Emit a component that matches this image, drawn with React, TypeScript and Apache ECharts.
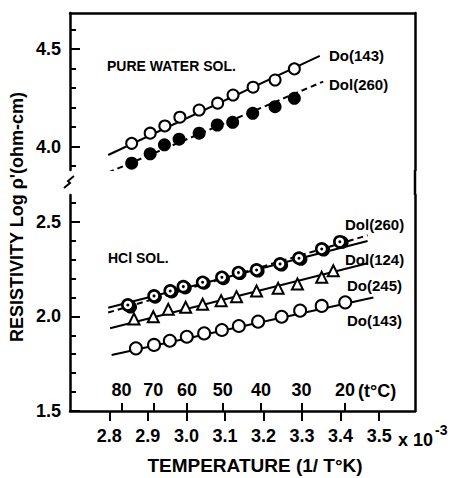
import React, { useEffect, useRef } from "react";
import * as echarts from "echarts";

// ---- tick labels ----
const xTicks = [2.8, 2.9, 3.0, 3.1, 3.2, 3.3, 3.4, 3.5];
const celsiusTicks = [80, 70, 60, 50, 40, 30, 20];
const upperMajor = [4.0, 4.5];
const upperMinor = [3.9, 4.1, 4.2, 4.3, 4.4, 4.6];
const lowerMajor = [1.5, 2.0, 2.5];
const lowerMinor = [1.6, 1.7, 1.8, 1.9, 2.1, 2.2, 2.3, 2.4, 2.6];

// ---- pure water solution ----
const pwDo143X = [2.858, 2.906, 2.944, 2.983, 3.033, 3.081, 3.121, 3.173, 3.23, 3.28];
const pwDo143Y = [4.017, 4.069, 4.106, 4.151, 4.188, 4.223, 4.265, 4.305, 4.342, 4.399];
const pwDo143Fit = [[2.797, 3.957], [3.346, 4.466]];

const pwDol260X = [2.858, 2.906, 2.943, 2.981, 3.033, 3.08, 3.12, 3.172, 3.23, 3.28];
const pwDol260Y = [3.915, 3.963, 4.009, 4.038, 4.069, 4.111, 4.125, 4.171, 4.205, 4.248];
const pwDol260Fit = [[2.797, 3.867], [3.355, 4.334]];

// ---- HCl solution ----
const hclDol260X = [2.848, 2.916, 2.958, 2.992, 3.042, 3.092, 3.135, 3.182, 3.243, 3.292, 3.351, 3.398];
const hclDol260Y = [2.06, 2.108, 2.134, 2.157, 2.18, 2.206, 2.231, 2.245, 2.277, 2.307, 2.356, 2.394];
const hclDol260Fit = [[2.797, 2.045], [3.47, 2.398]];

const hclDol124X = [2.855, 2.919, 2.962, 2.997, 3.046, 3.096, 3.139, 3.186, 3.247, 3.297, 3.356, 3.404];
const hclDol124Y = [2.049, 2.101, 2.129, 2.15, 2.175, 2.199, 2.226, 2.239, 2.271, 2.301, 2.35, 2.391];
const hclDol124Fit = [[2.797, 2.02], [3.47, 2.428]];

const hclDo245X = [2.864, 2.914, 2.953, 2.998, 3.042, 3.09, 3.13, 3.182, 3.238, 3.288, 3.351, 3.381];
const hclDo245Y = [1.986, 1.998, 2.037, 2.048, 2.064, 2.083, 2.104, 2.134, 2.148, 2.171, 2.206, 2.241];
const hclDo245Fit = [[2.802, 1.937], [3.47, 2.28]];

const hclDo143X = [2.869, 2.916, 2.957, 3.001, 3.046, 3.092, 3.136, 3.186, 3.247, 3.295, 3.351, 3.412];
const hclDo143Y = [1.831, 1.849, 1.871, 1.892, 1.91, 1.928, 1.949, 1.972, 1.998, 2.03, 2.055, 2.074];
const hclDo143Fit = [[2.806, 1.796], [3.485, 2.1]];

const zip = (xs: number[], ys: number[]) => xs.map((x, i) => [x, ys[i]]);

const FONT = "Liberation Sans, Arial, sans-serif";
const W = 461;
const H = 478;
const FRAME = { left: 70, right: 46, top: 13, bottom: 67 };
const UPPER_BOTTOM_Y = 170;
const LOWER_TOP_Y = 195;

export default function App() {
  const ref = useRef<HTMLDivElement>(null);

  useEffect(() => {
    if (!ref.current) return;
    const chart = echarts.init(ref.current, null, { renderer: "svg" });

    const xMin = 2.698;
    const xMax = 3.593;
    const lineW = 2.5;
    const frameX2 = W - FRAME.right;

    const openMarker = { color: "#fff", borderColor: "#000", borderWidth: 2, opacity: 1 };
    const fitLine = (name: string, data: number[][], xi: number, yi: number, dashed = false) => ({
      name,
      type: "line",
      xAxisIndex: xi,
      yAxisIndex: yi,
      data,
      symbol: "none",
      lineStyle: { color: "#000", width: 2, type: dashed ? [6, 4] : "solid" },
      z: 2,
      silent: true,
    });
    const scatter = (name: string, data: number[][], xi: number, yi: number, symbol: string, size: number, itemStyle: any, z = 3) => ({
      name,
      type: "scatter",
      xAxisIndex: xi,
      yAxisIndex: yi,
      data,
      symbol,
      symbolSize: size,
      itemStyle: { opacity: 1, ...itemStyle },
      z,
    });

    const yMajor = (gi: number, min: number, max: number, vals: number[]) => ({
      type: "value",
      gridIndex: gi,
      position: "left",
      min,
      max,
      axisLine: { show: true, onZero: false, lineStyle: { color: "#000", width: lineW } },
      axisTick: { show: true, inside: true, length: 10, customValues: vals, lineStyle: { color: "#000", width: 2 } },
      axisLabel: {
        show: true,
        customValues: vals,
        formatter: (v: number) => v.toFixed(1),
        color: "#000",
        fontFamily: FONT,
        fontWeight: "bold",
        fontSize: 18,
        margin: 9,
      },
      splitLine: { show: false },
    });
    const yMinor = (gi: number, min: number, max: number, vals: number[]) => ({
      type: "value",
      gridIndex: gi,
      position: "left",
      min,
      max,
      axisLine: { show: false, onZero: false },
      axisTick: { show: true, inside: true, length: 6, customValues: vals, lineStyle: { color: "#000", width: 2 } },
      axisLabel: { show: false },
      splitLine: { show: false },
    });
    // right-hand frame side of each grid
    const yRight = (gi: number, min: number, max: number) => ({
      type: "value",
      gridIndex: gi,
      position: "right",
      min,
      max,
      axisLine: { show: true, onZero: false, lineStyle: { color: "#000", width: lineW } },
      axisTick: { show: false },
      axisLabel: { show: false },
      splitLine: { show: false },
    });

    const celsiusPos = celsiusTicks.map((t) => 1000 / (t + 273.15));
    const txt = (x: number, y: number, text: string, size: number, align = "left") => ({
      type: "text",
      x,
      y,
      style: { text, fontSize: size, fontWeight: "bold", fontFamily: FONT, fill: "#000", textAlign: align, textVerticalAlign: "middle" },
    });

    const option: any = {
      animation: false,
      backgroundColor: "#fff",
      grid: [
        { left: FRAME.left, right: FRAME.right, top: FRAME.top, bottom: H - UPPER_BOTTOM_Y },
        { left: FRAME.left, right: FRAME.right, top: LOWER_TOP_Y, bottom: FRAME.bottom },
      ],
      xAxis: [
        { type: "value", gridIndex: 0, min: xMin, max: xMax, show: false },
        {
          type: "value",
          gridIndex: 1,
          position: "bottom",
          min: xMin,
          max: xMax,
          axisLine: { show: true, onZero: false, lineStyle: { color: "#000", width: lineW } },
          axisTick: { show: true, inside: false, length: 10, customValues: xTicks, lineStyle: { color: "#000", width: 2 } },
          axisLabel: {
            customValues: xTicks,
            formatter: (v: number) => v.toFixed(1),
            color: "#000",
            fontFamily: FONT,
            fontWeight: "bold",
            fontSize: 18,
            margin: 16,
          },
          splitLine: { show: false },
        },
        {
          type: "value",
          gridIndex: 1,
          position: "bottom",
          min: xMin,
          max: xMax,
          axisLine: { show: false, onZero: false },
          axisTick: {
            show: true,
            inside: true,
            length: 8,
            customValues: celsiusPos,
            lineStyle: { color: "#000", width: 2 },
          },
          axisLabel: {
            inside: true,
            customValues: celsiusPos,
            formatter: (v: number) => String(Math.round(1000 / v - 273.15)),
            color: "#000",
            fontFamily: FONT,
            fontWeight: "bold",
            fontSize: 18,
            margin: 12,
          },
          splitLine: { show: false },
        },
        // top side of the frame
        {
          type: "value",
          gridIndex: 0,
          position: "top",
          min: xMin,
          max: xMax,
          axisLine: { show: true, onZero: false, lineStyle: { color: "#000", width: lineW } },
          axisTick: { show: false },
          axisLabel: { show: false },
          splitLine: { show: false },
        },
      ],
      yAxis: [
        yMajor(0, 3.88, 4.686, upperMajor),
        yMinor(0, 3.88, 4.686, upperMinor),
        yMajor(1, 1.5, 2.641, lowerMajor),
        yMinor(1, 1.5, 2.641, lowerMinor),
        yRight(0, 3.88, 4.686),
        yRight(1, 1.5, 2.641),
      ],
      series: [
        // pure water
        fitLine("Do(143) fit", pwDo143Fit, 0, 0),
        scatter("Do(143)", zip(pwDo143X, pwDo143Y), 0, 0, "circle", 11, openMarker),
        fitLine("Dol(260) fit", pwDol260Fit, 0, 0, true),
        scatter("Dol(260)", zip(pwDol260X, pwDol260Y), 0, 0, "circle", 13, { color: "#000" }),
        // HCl
        fitLine("HCl Dol(260) fit", hclDol260Fit, 1, 3),
        fitLine("HCl Dol(124) fit", hclDol124Fit, 1, 3, true),
        scatter("HCl Dol(124)", zip(hclDol124X, hclDol124Y), 1, 3, "circle", 13, { color: "#000" }, 3),
        scatter("HCl Dol(260)", zip(hclDol260X, hclDol260Y), 1, 3, "circle", 11, { color: "#fff", borderColor: "#000", borderWidth: 2.6 }, 4),
        scatter("HCl Dol(260) dot", zip(hclDol260X, hclDol260Y), 1, 3, "circle", 3, { color: "#000" }, 5),
        fitLine("HCl Do(245) fit", hclDo245Fit, 1, 3),
        scatter("HCl Do(245)", zip(hclDo245X, hclDo245Y), 1, 3, "triangle", 11, openMarker),
        fitLine("HCl Do(143) fit", hclDo143Fit, 1, 3),
        scatter("HCl Do(143)", zip(hclDo143X, hclDo143Y), 1, 3, "circle", 12, openMarker),
      ],
      graphic: {
        elements: [
          // right frame side across the axis break
          {
            type: "line",
            shape: { x1: frameX2, y1: UPPER_BOTTOM_Y, x2: frameX2, y2: LOWER_TOP_Y },
            style: { stroke: "#000", lineWidth: lineW },
          },
          // axis break mark
          {
            type: "polyline",
            shape: { points: [[64, 188], [70, 183], [68, 181], [74, 176]] },
            style: { stroke: "#000", lineWidth: 2, fill: null },
          },
          txt(107, 66, "PURE WATER SOL.", 14),
          txt(329, 55, "Do(143)", 15),
          txt(329, 84, "Dol(260)", 15),
          txt(108, 258, "HCl SOL.", 14),
          txt(345, 224, "Dol(260)", 15),
          txt(345, 259, "Dol(124)", 15),
          txt(347, 285, "Do(245)", 15),
          txt(347, 320, "Do(143)", 15),
          txt(358, 391, "(t°C)", 18),
          txt(398, 440, "x 10", 18),
          txt(435, 430, "-3", 14),
          txt(255, 465, "TEMPERATURE (1/ T°K)", 19, "center"),
          {
            type: "text",
            x: 17,
            y: 217,
            rotation: Math.PI / 2,
            style: { text: "RESISTIVITY Log ρ'(ohm-cm)", fontSize: 18, fontWeight: "bold", fontFamily: FONT, fill: "#000", textAlign: "center", textVerticalAlign: "middle" },
          },
        ],
      },
    };

    chart.setOption(option);
    return () => chart.dispose();
  }, []);

  return <div ref={ref} style={{ position: "absolute", left: 0, top: 0, width: W, height: H }} />;
}
